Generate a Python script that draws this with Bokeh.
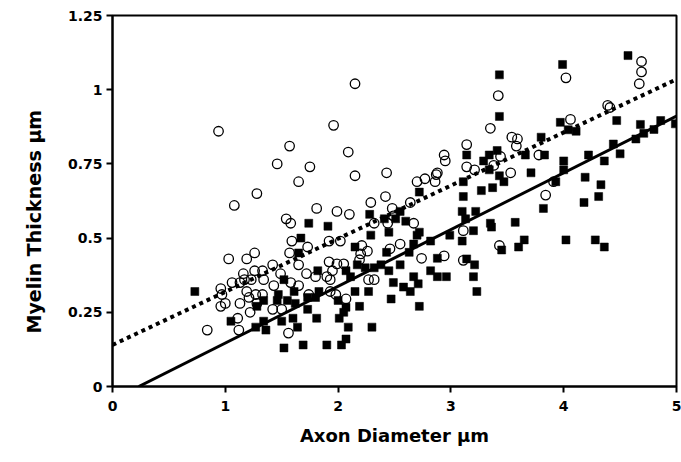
from bokeh.plotting import figure
from bokeh.models import Range1d, FixedTicker, Title
from bokeh.embed import file_html
from bokeh.resources import INLINE

# Open circles
circle_x = [0.94, 1.57, 1.46, 1.75, 1.65, 1.28, 1.08, 1.54, 1.58, 1.59, 1.73, 1.03, 1.19, 1.26, 1.57,
            1.65, 1.72, 1.42, 1.49, 1.26, 1.16, 1.17, 1.06, 1.13, 1.34, 1.43, 1.58, 1.65, 0.96, 0.97,
            1.00, 0.96, 1.19, 1.21, 1.13, 1.27, 1.33, 1.22, 1.28, 1.42, 1.50, 1.11, 1.12, 1.56, 0.84,
            1.81, 1.92, 1.80, 1.92, 1.90, 1.74, 1.93, 2.09, 2.15, 2.43, 2.94, 2.95, 3.14, 3.14, 2.70,
            2.77, 2.88, 2.86, 2.42, 2.29, 2.64, 1.99, 2.10, 2.48, 2.49, 2.32, 2.44, 2.67, 3.11, 2.02,
            2.55, 2.21, 2.26, 2.20, 2.19, 2.46, 2.74, 2.94, 3.11, 1.99, 2.05, 1.95, 1.93, 2.27, 2.32,
            1.98, 2.07, 1.96, 2.15, 3.35, 3.21, 3.38, 2.87, 3.43, 4.02, 3.42, 4.06, 4.39, 4.41, 3.54,
            3.59, 3.58, 3.78, 3.44, 3.53, 3.91, 3.84, 4.69, 4.69, 4.67, 1.23, 1.33]
circle_y = [0.86, 0.81, 0.75, 0.74, 0.69, 0.65, 0.61, 0.565, 0.55, 0.49, 0.47, 0.43, 0.43, 0.45, 0.45,
            0.41, 0.38, 0.41, 0.38, 0.39, 0.38, 0.36, 0.35, 0.35, 0.36, 0.34, 0.35, 0.34, 0.33, 0.31,
            0.28, 0.27, 0.32, 0.30, 0.28, 0.31, 0.31, 0.25, 0.28, 0.26, 0.26, 0.23, 0.19, 0.18, 0.19,
            0.60, 0.49, 0.37, 0.42, 0.37, 0.31, 0.32, 0.79, 0.71, 0.72, 0.78, 0.76, 0.815, 0.74, 0.69,
            0.70, 0.72, 0.69, 0.64, 0.62, 0.62, 0.59, 0.58, 0.60, 0.575, 0.55, 0.55, 0.55, 0.525, 0.49,
            0.48, 0.475, 0.456, 0.447, 0.427, 0.464, 0.432, 0.44, 0.425, 0.413, 0.413, 0.39, 0.36, 0.36, 0.36,
            0.31, 0.295, 0.88, 1.02, 0.87, 0.73, 0.745, 0.714, 0.475, 1.04, 0.98, 0.90, 0.947, 0.94, 0.84,
            0.834, 0.81, 0.78, 0.775, 0.72, 0.69, 0.645, 1.095, 1.06, 1.02, 0.36, 0.39]

# Filled squares
square_x = [1.74, 1.67, 1.65, 1.52, 1.61, 1.28, 1.34, 1.46, 1.47, 1.55, 1.62, 1.73, 1.34, 1.50, 1.60,
            1.73, 1.64, 1.27, 1.36, 0.73, 1.05, 1.52, 1.69, 1.91, 1.82, 1.83, 1.80, 1.81, 1.90, 3.14,
            3.11, 2.72, 3.11, 2.28, 2.55, 2.41, 2.51, 2.60, 2.45, 2.29, 2.72, 2.70, 3.10, 3.10, 2.99,
            2.82, 2.67, 2.15, 2.43, 2.63, 2.88, 3.14, 2.07, 2.17, 2.24, 2.32, 2.38, 2.45, 2.55, 2.11,
            2.49, 2.67, 2.71, 2.58, 2.64, 2.82, 2.88, 2.96, 2.00, 2.15, 2.27, 2.47, 2.07, 2.19, 2.72,
            2.05, 2.01, 2.09, 2.30, 2.07, 2.03, 3.43, 3.29, 3.34, 3.41, 3.34, 3.43, 3.27, 3.37, 3.13,
            3.22, 3.35, 3.36, 3.20, 3.99, 3.43, 3.97, 4.04, 4.11, 3.80, 3.66, 3.83, 3.47, 3.71, 4.00,
            4.00, 4.22, 4.36, 4.19, 4.33, 4.31, 4.18, 3.93, 3.82, 3.57, 3.45, 3.60, 3.65, 4.02, 4.28,
            4.36, 3.21, 3.20, 3.23, 4.57, 4.47, 4.68, 4.86, 4.99, 4.71, 4.80, 4.64, 4.44, 4.50]
square_y = [0.55, 0.50, 0.45, 0.36, 0.32, 0.27, 0.29, 0.29, 0.31, 0.29, 0.28, 0.30, 0.22, 0.22, 0.23,
            0.26, 0.20, 0.20, 0.19, 0.32, 0.22, 0.13, 0.14, 0.54, 0.39, 0.32, 0.30, 0.23, 0.14, 0.78,
            0.69, 0.655, 0.64, 0.58, 0.59, 0.565, 0.565, 0.557, 0.52, 0.51, 0.52, 0.51, 0.59, 0.49, 0.51,
            0.49, 0.48, 0.47, 0.452, 0.452, 0.432, 0.43, 0.39, 0.41, 0.40, 0.40, 0.41, 0.39, 0.41, 0.37,
            0.35, 0.37, 0.346, 0.335, 0.32, 0.39, 0.37, 0.37, 0.29, 0.32, 0.32, 0.295, 0.267, 0.27, 0.27,
            0.25, 0.23, 0.20, 0.20, 0.16, 0.14, 0.91, 0.76, 0.78, 0.795, 0.73, 0.71, 0.66, 0.67, 0.565,
            0.59, 0.55, 0.537, 0.525, 1.085, 1.05, 0.89, 0.865, 0.86, 0.84, 0.78, 0.78, 0.69, 0.72, 0.76,
            0.73, 0.78, 0.76, 0.705, 0.68, 0.64, 0.62, 0.69, 0.60, 0.553, 0.46, 0.47, 0.494, 0.494, 0.494,
            0.47, 0.41, 0.37, 0.32, 1.115, 0.896, 0.883, 0.896, 0.885, 0.853, 0.866, 0.834, 0.817, 0.784]

# Regression lines (end points)
dotted_fit_x = [0.0, 5.0]
dotted_fit_y = [0.140, 1.035]
solid_fit_x = [0.233, 5.0]
solid_fit_y = [0.0, 0.911]

x_ticks = [0, 1, 2, 3, 4, 5]
y_ticks = [0, 0.25, 0.5, 0.75, 1, 1.25]
y_tick_labels = ["0", "0.25", "0.5", "0.75", "1", "1.25"]

x_title = "Axon Diameter \u03bcm"
y_title = "Myelin Thickness \u03bcm"

FONT = "DejaVu Sans"

p = figure(frame_width=564, frame_height=371,
           min_border_left=112, min_border_right=5, min_border_top=15, min_border_bottom=76,
           x_range=Range1d(0, 5), y_range=Range1d(0, 1.25),
           output_backend="svg", toolbar_location=None)
p.grid.visible = False
p.background_fill_color = "white"
p.border_fill_color = "white"
p.outline_line_color = "black"
p.outline_line_width = 2

for ax in (p.xaxis[0], p.yaxis[0]):
    ax.axis_line_width = 2
    ax.axis_line_color = "black"
    ax.major_tick_line_width = 2
    ax.major_tick_out = 6
    ax.major_tick_in = 0
    ax.minor_tick_out = 0
    ax.minor_tick_in = 0
    ax.major_label_text_font = FONT
    ax.major_label_text_font_style = "bold"
    ax.major_label_text_font_size = "14px"
    ax.major_label_text_color = "black"

p.xaxis[0].ticker = FixedTicker(ticks=x_ticks)
p.yaxis[0].ticker = FixedTicker(ticks=y_ticks)
p.yaxis[0].major_label_overrides = {t: l for t, l in zip(y_ticks, y_tick_labels)}
p.xaxis[0].major_label_standoff = 8
p.yaxis[0].major_label_standoff = 4

p.xaxis[0].axis_label = x_title
p.xaxis[0].axis_label_text_font = FONT
p.xaxis[0].axis_label_text_font_style = "bold"
p.xaxis[0].axis_label_text_font_size = "18px"
p.xaxis[0].axis_label_text_color = "black"
p.xaxis[0].axis_label_standoff = 11

ytitle = Title(text=y_title, align="left", offset=53, standoff=40,
               text_font=FONT, text_font_style="bold", text_font_size="19px",
               text_color="black")
p.add_layout(ytitle, "left")

p.scatter(square_x, square_y, marker="square", size=8, fill_color="black",
          line_color="black", line_width=0.5)
p.scatter(circle_x, circle_y, marker="circle", size=9.5, fill_color=None,
          line_color="black", line_width=1.3)

p.line(dotted_fit_x, dotted_fit_y, line_color="black", line_width=4, line_dash="4 4")
p.line(solid_fit_x, solid_fit_y, line_color="black", line_width=3)

open("out.html", "w").write(file_html(p, INLINE))
